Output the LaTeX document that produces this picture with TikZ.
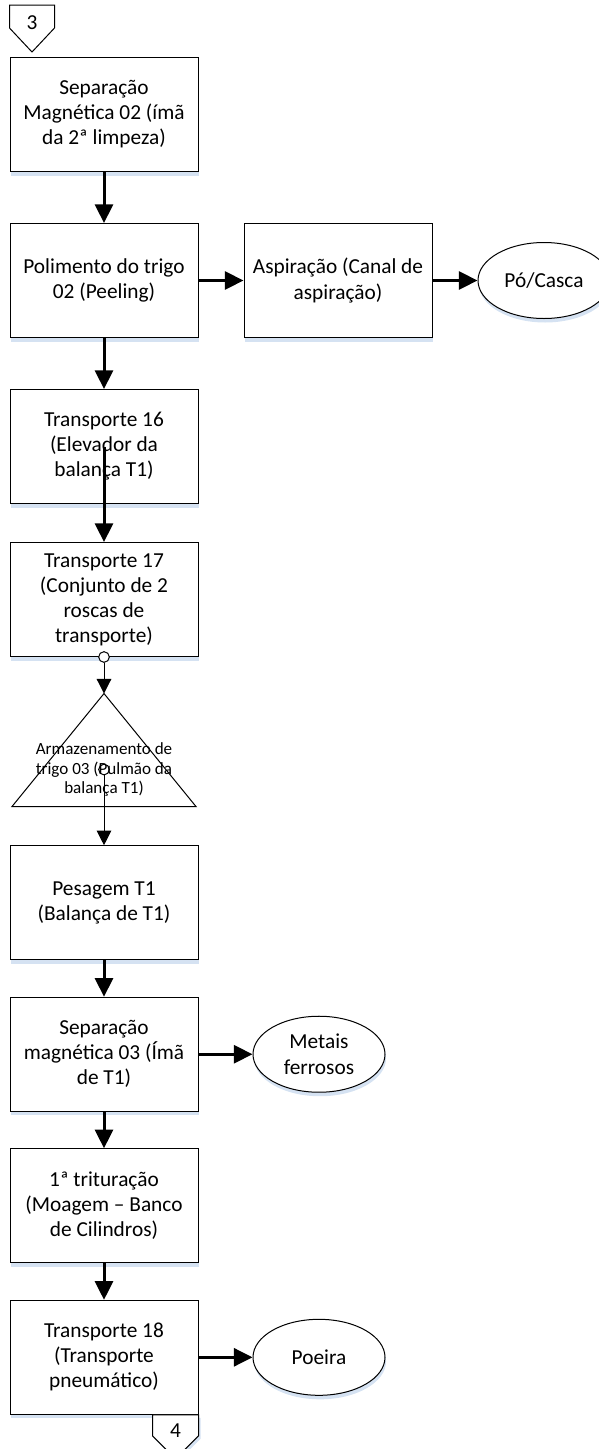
\documentclass[tikz,border=0pt]{standalone}
\usepackage{fontspec}
\setmainfont{Carlito}
\usetikzlibrary{shapes.geometric,arrows.meta,positioning,calc,shadows}
\definecolor{shadowblue}{RGB}{213,226,242}

\begin{document}
\begin{tikzpicture}[
  x=0.75pt, y=-0.75pt,
  box/.style={draw, line width=0.75pt, minimum width=141pt, minimum height=85.5pt,
              align=center, inner sep=2pt, fill=white, font=\fontsize{16pt}{18.8pt}\selectfont,
              general shadow={fill=shadowblue, shadow xshift=0.8pt, shadow yshift=-3pt}},
  sink/.style={ellipse, draw, line width=0.75pt, minimum width=99pt, minimum height=57pt,
               align=center, inner sep=0pt, fill=white, font=\fontsize{16pt}{18.8pt}\selectfont,
               general shadow={fill=shadowblue, shadow xshift=0.8pt, shadow yshift=-3pt}},
  arr/.style={-{Triangle[length=14pt, width=13.5pt]}, line width=2.25pt},
  thinarr/.style={-{Triangle[length=11pt, width=11pt]}, line width=0.75pt},
  joint/.style={circle, draw, line width=0.75pt, minimum size=8pt, inner sep=0pt},
  node distance=27.4pt
]
\clip (0,0) rectangle (599,1449);

\node[box] (sep2) at (104,114.5) {Separação\\Magnética 02 (ímã\\da 2ª limpeza)};
\node[box, below=38.25pt of sep2] (pol2) {Polimento do trigo\\02 (Peeling)};
\node[box, right=33.75pt of pol2] (asp) {Aspiração (Canal de\\aspiração)};
\node[sink, right=33.75pt of asp] (po) {Pó/Casca};
\node[box, below=38.25pt of pol2] (tr16) {Transporte 16\\(Elevador da\\balança T1)};
\node[box, below=28.5pt of tr16] (tr17) {Transporte 17\\(Conjunto de 2\\roscas de\\transporte)};

% Storage triangle
\coordinate[below=of tr17] (armtop);
\coordinate (armbot) at ($(armtop)+(0,113)$);
\draw[line width=0.75pt] (armtop) -- ($(armbot)+(92,0)$) -- ($(armbot)+(-92,0)$) -- cycle;
\node[font=\fontsize{12.8pt}{14.8pt}\selectfont, align=center, inner sep=0pt] (arm)
  at ($(armtop)+(0,76)$) {Armazenamento de\\trigo 03 (Pulmão da\\balança T1)};

\node[box, below=29pt of armbot] (pes) {Pesagem T1\\(Balança de T1)};
\node[box, below=of pes] (sep3) {Separação\\magnética 03 (Ímã\\de T1)};
\node[sink, right=40.5pt of sep3] (met) {Metais\\ferrosos};
\node[box, below=of sep3] (trit) {1ª trituração\\(Moagem – Banco\\de Cilindros)};
\node[box, below=of trit] (tr18) {Transporte 18\\(Transporte\\pneumático)};
\node[sink, right=40.5pt of tr18] (poe) {Poeira};

% Off-page connectors
\draw[line width=0.75pt, fill=white] ($(sep2.north west)+(0,-52)$) -- ++(45,0) -- ++(0,23)
  -- ++(-22.5,24) -- ++(-22.5,-24) -- cycle;
\node[font=\fontsize{16pt}{18.8pt}\selectfont, inner sep=0pt] (con3)
  at ($(sep2.north west)+(22.5,-34)$) {3};
\fill[shadowblue] ($(tr18.south east)+(2,3)$) -- ++(0,21) -- ++(-23,23) -- ++(-23,-23) -- ++(0,-21) -- cycle;
\draw[line width=0.75pt, fill=white] (tr18.south east) -- ++(0,21) -- ++(-23,23) -- ++(-23,-23)
  -- ++(0,-21) -- cycle;
\node[font=\fontsize{16pt}{18.8pt}\selectfont, inner sep=0pt] (con4)
  at ($(tr18.south east)+(-23,16)$) {4};

\draw[arr] (sep2) -- (pol2);
\draw[arr] (pol2) -- (asp);
\draw[arr] (asp) -- (po);
\draw[arr] (pol2) -- (tr16);
\draw[arr] (tr16.center) -- (tr17);
\node[joint, fill=white] (j17) at (tr17.south) {};
\draw[thinarr] (j17) -- (armtop);
\node[joint] (jarm) at (arm.center) {};
\draw[thinarr] (jarm) -- (pes);
\draw[arr] (pes) -- (sep3);
\draw[arr] (sep3) -- (met);
\draw[arr] (sep3) -- (trit);
\draw[arr] (trit) -- (tr18);
\draw[arr] (tr18) -- (poe);
\end{tikzpicture}
\end{document}
